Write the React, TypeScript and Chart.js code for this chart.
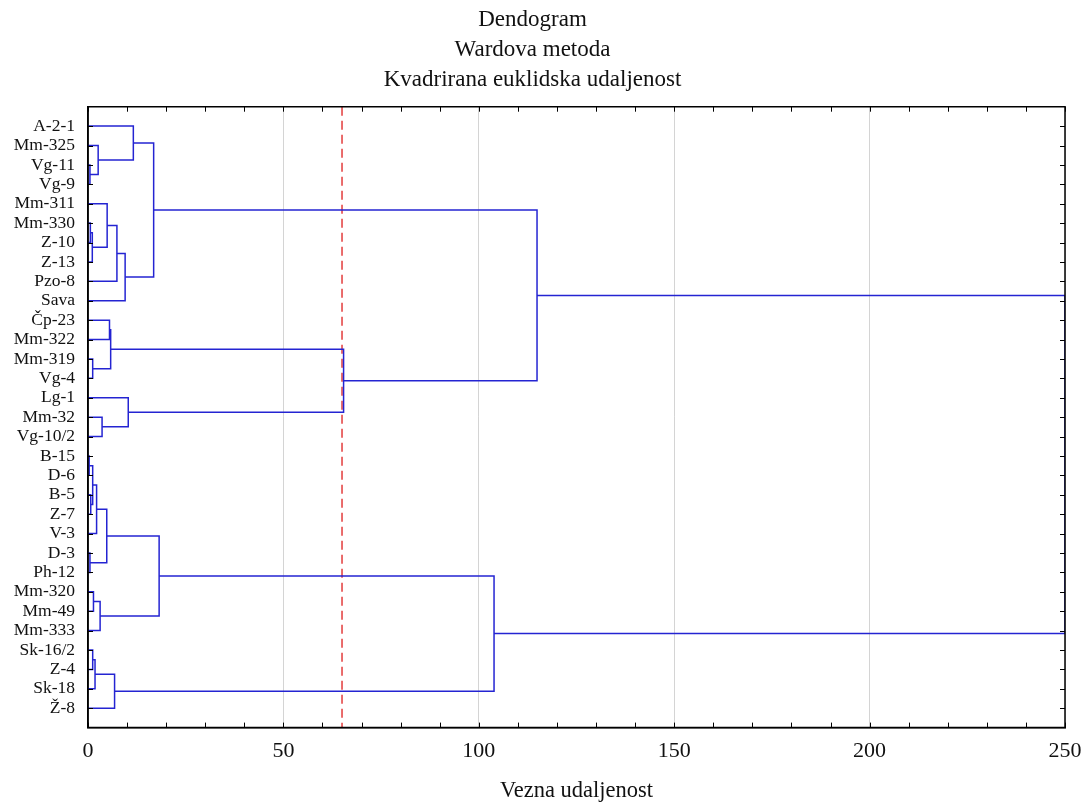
import React, { useEffect, useRef } from "react";
import { Chart, registerables } from "chart.js";

Chart.register(...registerables);

// ---- data ----
const titleLines = ["Dendogram", "Wardova metoda", "Kvadrirana euklidska udaljenost"];
const xAxisTitle = "Vezna udaljenost";

const leaves = [
  "A-2-1", "Mm-325", "Vg-11", "Vg-9", "Mm-311", "Mm-330", "Z-10", "Z-13", "Pzo-8", "Sava",
  "Čp-23", "Mm-322", "Mm-319", "Vg-4", "Lg-1", "Mm-32", "Vg-10/2",
  "B-15", "D-6", "B-5", "Z-7", "V-3", "D-3", "Ph-12", "Mm-320", "Mm-49", "Mm-333",
  "Sk-16/2", "Z-4", "Sk-18", "Ž-8",
];

// [left child, right child, linkage distance]; ids < leaves.length are leaves,
// id leaves.length + k is the cluster formed by merge k
const merges: [number, number, number][] = [
  [17, 18, 0.3],   // 31
  [2, 3, 0.5],     // 32
  [22, 23, 0.5],   // 33
  [5, 6, 0.6],     // 34
  [19, 20, 0.7],   // 35
  [34, 7, 1.1],    // 36
  [31, 35, 1.2],   // 37
  [12, 13, 1.2],   // 38
  [27, 28, 1.2],   // 39
  [24, 25, 1.4],   // 40
  [39, 29, 1.8],   // 41
  [37, 21, 2.2],   // 42
  [1, 32, 2.6],    // 43
  [40, 26, 3.1],   // 44
  [15, 16, 3.6],   // 45
  [42, 33, 4.8],   // 46
  [4, 36, 4.9],    // 47
  [10, 11, 5.5],   // 48
  [48, 38, 5.8],   // 49
  [41, 30, 6.8],   // 50
  [47, 8, 7.4],    // 51
  [51, 9, 9.5],    // 52
  [14, 45, 10.3],  // 53
  [0, 43, 11.6],   // 54
  [54, 52, 16.8],  // 55
  [46, 44, 18.2],  // 56
  [49, 53, 65.4],  // 57
  [56, 50, 103.9], // 58
  [55, 57, 114.9], // 59
  [59, 58, 250],   // 60
];

const cutoffDistance = 65;
const xMin = 0;
const xMax = 250;
const xMajorStep = 50;
const xMinorStep = 10;

// ---- build dendrogram segments from data ----
function buildDatasets() {
  const pos: number[] = leaves.map((_, i) => i);
  const height: number[] = leaves.map(() => 0);
  const sets: any[] = [];
  merges.forEach(([a, b, h]) => {
    const ya = pos[a];
    const yb = pos[b];
    sets.push({
      data: [
        { x: height[a], y: ya },
        { x: h, y: ya },
        { x: h, y: yb },
        { x: height[b], y: yb },
      ],
      borderColor: "#2424d2",
      borderWidth: 1.5,
      pointRadius: 0,
      showLine: true,
      tension: 0,
      fill: false,
    });
    pos.push((ya + yb) / 2);
    height.push(h);
  });
  sets.push({
    data: [
      { x: cutoffDistance, y: -1 },
      { x: cutoffDistance, y: leaves.length },
    ],
    borderColor: "#e33b3b",
    borderWidth: 1.5,
    borderDash: [9, 5],
    pointRadius: 0,
    showLine: true,
    fill: false,
  });
  return sets;
}

const framePlugin = {
  id: "frame",
  afterDraw(chart: any) {
    const { ctx, chartArea, scales } = chart;
    const { left, right, top, bottom } = chartArea;
    const x = scales.x;
    const y = scales.y;
    ctx.save();
    ctx.strokeStyle = "#000";
    ctx.lineWidth = 1.5;
    ctx.beginPath();
    ctx.rect(left, top, right - left, bottom - top);
    ctx.stroke();
    ctx.lineWidth = 1;
    ctx.beginPath();
    for (let i = 0; i < leaves.length; i++) {
      const py = Math.round(y.getPixelForValue(i)) + 0.5;
      ctx.moveTo(left, py);
      ctx.lineTo(left + 5, py);
      ctx.moveTo(right, py);
      ctx.lineTo(right - 5, py);
    }
    for (let v = xMin; v <= xMax; v += xMinorStep) {
      const px = Math.round(x.getPixelForValue(v)) + 0.5;
      ctx.moveTo(px, bottom);
      ctx.lineTo(px, bottom - 5);
      ctx.moveTo(px, top);
      ctx.lineTo(px, top + 5);
    }
    ctx.stroke();
    ctx.restore();
  },
};

export default function App() {
  const ref = useRef<HTMLCanvasElement | null>(null);
  useEffect(() => {
    document.body.style.margin = "0";
    if (!ref.current) return;
    const font = "'Liberation Serif', 'Times New Roman', serif";
    const chart = new Chart(ref.current, {
      type: "scatter",
      data: { datasets: buildDatasets() },
      plugins: [framePlugin],
      options: {
        animation: false,
        responsive: false,
        maintainAspectRatio: false,
        layout: { padding: { left: 0, right: 23, top: 0, bottom: 0 } },
        plugins: {
          legend: { display: false },
          tooltip: { enabled: false },
          title: {
            display: true,
            text: titleLines,
            color: "#111",
            font: { family: font, size: 23, weight: "normal", lineHeight: 1.3 },
            padding: { top: 5, bottom: 12 },
          },
        },
        scales: {
          x: {
            type: "linear",
            min: xMin,
            max: xMax,
            afterFit: (scale: any) => {
              scale.paddingLeft = 0;
              scale.paddingRight = 0;
            },
            ticks: {
              stepSize: xMajorStep,
              color: "#111",
              font: { family: font, size: 22 },
              padding: 10,
              maxRotation: 0,
            },
            grid: { color: "#d4d4d4", lineWidth: 1, drawTicks: false },
            border: { display: true, color: "#000", width: 1.5 },
            title: {
              display: true,
              text: xAxisTitle,
              color: "#111",
              font: { family: font, size: 22.5 },
              padding: { top: 4, bottom: -3 },
            },
          },
          y: {
            type: "linear",
            min: -1,
            max: leaves.length,
            reverse: true,
            afterFit: (scale: any) => {
              scale.width = 88;
            },
            ticks: {
              stepSize: 1,
              autoSkip: false,
              color: "#111",
              font: { family: font, size: 17.5 },
              padding: 13,
              callback: (v: any) => (leaves[v as number] !== undefined ? leaves[v as number] : ""),
            },
            grid: { display: false, drawTicks: false },
            border: { display: true, color: "#000", width: 1.5 },
          },
        },
      },
    });
    return () => chart.destroy();
  }, []);
  return (
    <div style={{ width: 1088, height: 802 }}>
      <canvas ref={ref} width={1088} height={802} style={{ display: "block" }} />
    </div>
  );
}
